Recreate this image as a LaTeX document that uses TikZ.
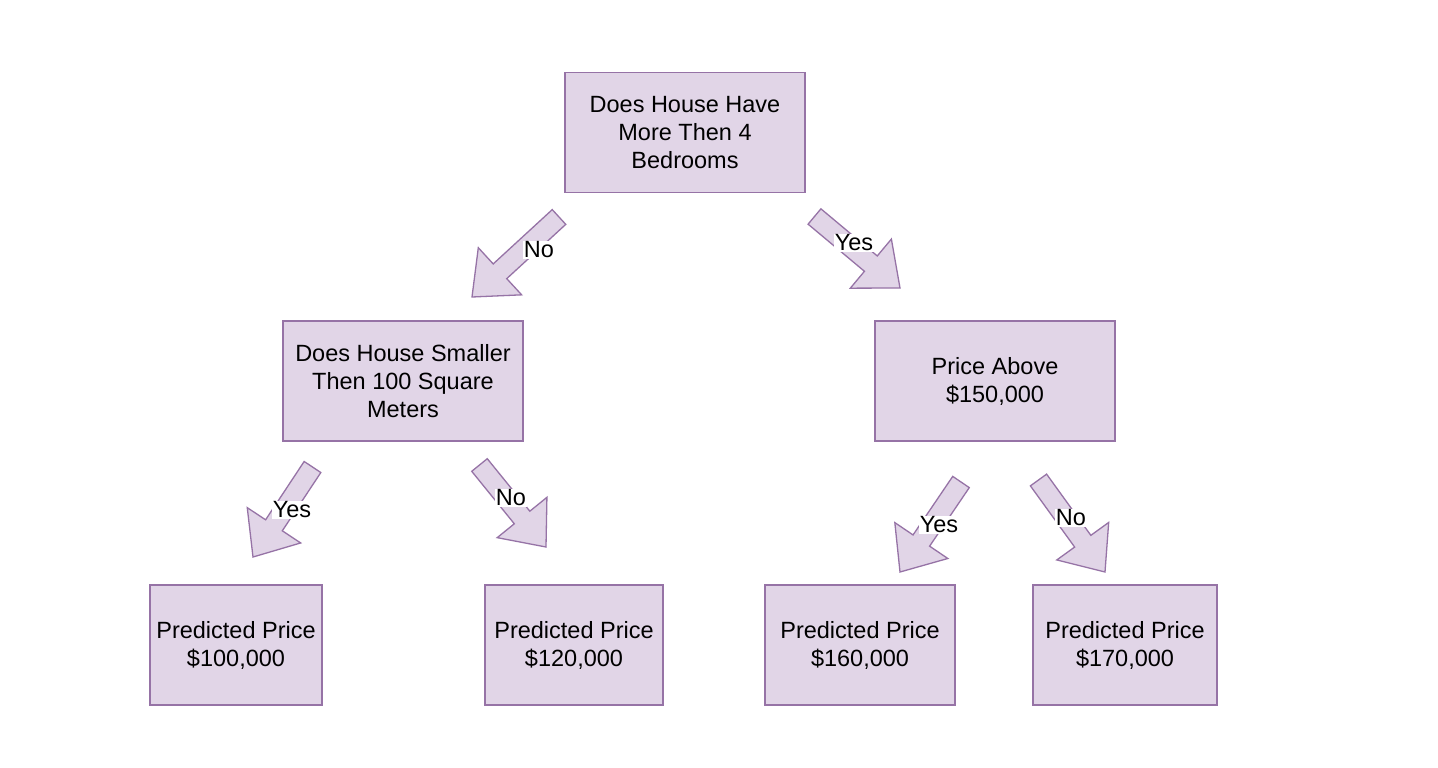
\documentclass[tikz,border=0pt]{standalone}
\usepackage{fontspec}
\setmainfont{Liberation Sans}
\usetikzlibrary{calc}
\definecolor{boxfill}{HTML}{E1D5E7}
\definecolor{boxline}{HTML}{9673A6}
\tikzset{
  treebox/.style={draw=boxline, fill=boxfill, line width=1.3pt, minimum height=120pt,
    align=center, font=\fontsize{23.5}{28}\selectfont, inner sep=0pt},
  lbl/.style={fill=white, inner sep=1pt, font=\fontsize{23.5}{28}\selectfont},
  barrow/.style={draw=boxline, fill=boxfill, line width=1.3pt, line join=miter},
}
\newcommand{\blockarrow}[2]{%
  \coordinate (hb-#1) at ($(#2)!38pt!(#1)$);
  \draw[barrow] ($(#1)!10pt!90:(#2)$) -- ($(hb-#1)!10pt!90:(#2)$) -- ($(hb-#1)!32pt!90:(#2)$)
    -- (#2) -- ($(hb-#1)!32pt!-90:(#2)$) -- ($(hb-#1)!10pt!-90:(#2)$) -- ($(#1)!10pt!-90:(#2)$) -- cycle;
}
\begin{document}
\begin{tikzpicture}[x=1pt,y=-1pt]
\useasboundingbox[fill=white] (0,0) rectangle (1438,768);
\node[treebox, minimum width=240pt] (root) at (685,132.5) {Does House Have\\More Then 4\\Bedrooms};
\node[treebox, minimum width=240pt] (left) at (403,381) {Does House Smaller\\Then 100 Square\\Meters};
\node[treebox, minimum width=240pt] (right) at (995,381) {Price Above\\\$150,000};
\node[treebox, minimum width=172pt] (b1) at (236,645) {Predicted Price\\\$100,000};
\node[treebox, minimum width=178pt] (b2) at (574,645) {Predicted Price\\\$120,000};
\node[treebox, minimum width=190pt] (b3) at (860,645) {Predicted Price\\\$160,000};
\node[treebox, minimum width=184pt] (b4) at (1125,645) {Predicted Price\\\$170,000};

\coordinate (t1) at (559,217); \coordinate (h1) at (472,297);
\coordinate (t2) at (814.5,216.5); \coordinate (h2) at (900,288);
\coordinate (t3) at (312.5,467); \coordinate (h3) at (253,557);
\coordinate (t4) at (479.5,465); \coordinate (h4) at (546,547);
\coordinate (t5) at (961,482); \coordinate (h5) at (900,572);
\coordinate (t6) at (1038.5,480); \coordinate (h6) at (1105,572);

\blockarrow{t1}{h1}
\blockarrow{t2}{h2}
\blockarrow{t3}{h3}
\blockarrow{t4}{h4}
\blockarrow{t5}{h5}
\blockarrow{t6}{h6}

\node[lbl] (l1) at (539,250) {No};
\node[lbl] (l2) at (854,243) {Yes};
\node[lbl] (l3) at (292,510) {Yes};
\node[lbl] (l4) at (511,498) {No};
\node[lbl] (l5) at (939,525) {Yes};
\node[lbl] (l6) at (1071,518) {No};
\end{tikzpicture}
\end{document}
